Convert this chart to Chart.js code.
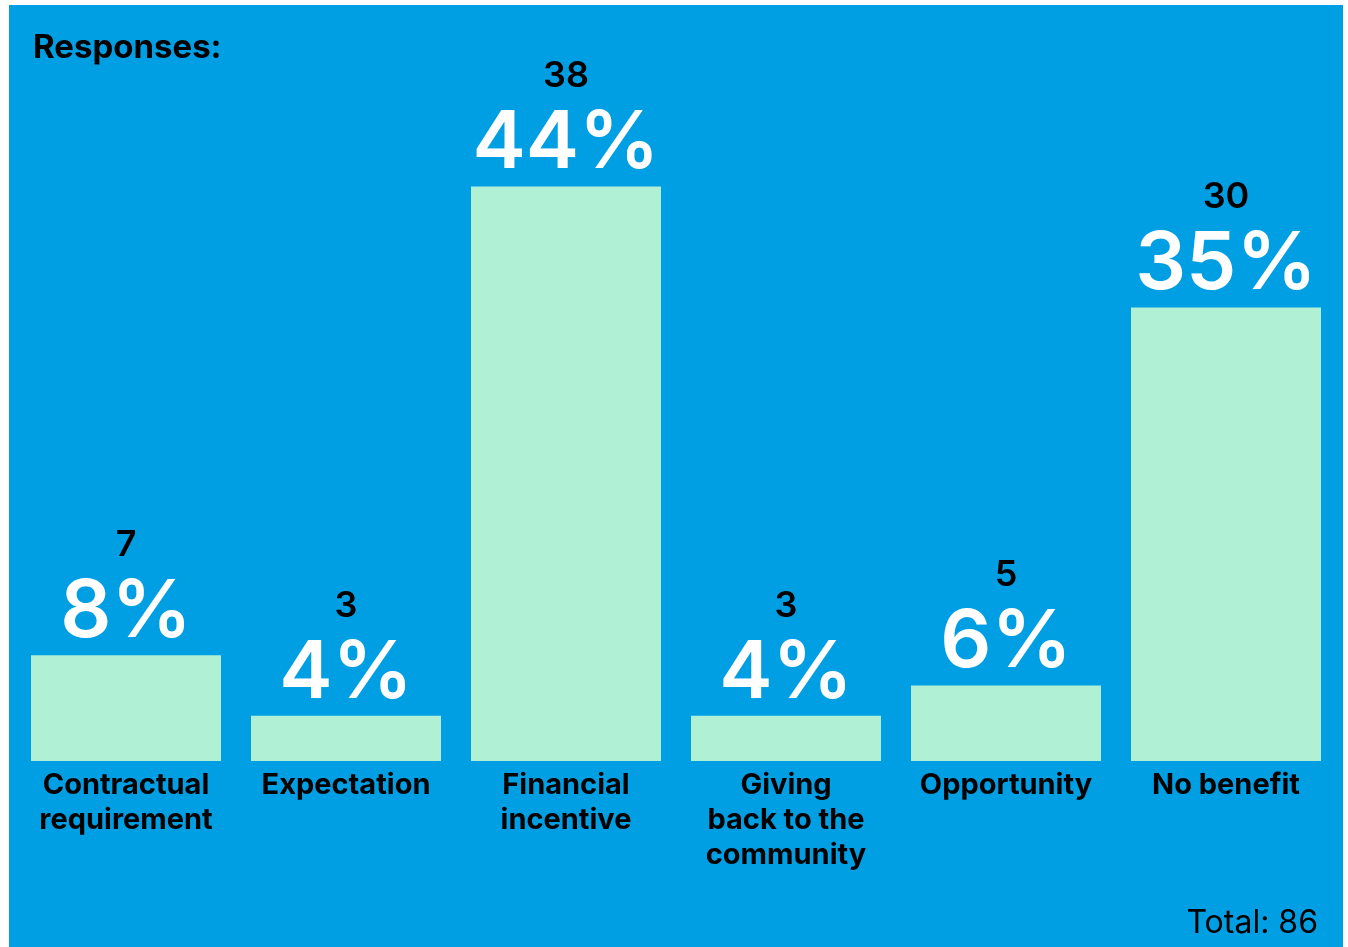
<!DOCTYPE html>
<html>
<head>
<meta charset="utf-8">
<title>Responses</title>
<script src="https://cdn.jsdelivr.net/npm/chart.js@4.4.0/dist/chart.umd.min.js"></script>
<style>
  html, body { margin: 0; padding: 0; background: #fff; }
  #wrap { width: 1348px; height: 947px; position: relative; }
</style>
</head>
<body>
<div id="wrap"><canvas id="responsesChart"></canvas></div>
<script>
// categories, response counts and the shares printed on the bars
const categories = [
    ['Contractual', 'requirement'],
    ['Expectation'],
    ['Financial', 'incentive'],
    ['Giving', 'back to the', 'community'],
    ['Opportunity'],
    ['No benefit'],
];
const counts = [7, 3, 38, 3, 5, 30];
const shares = [8, 4, 44, 4, 6, 35];
const total = counts.reduce((a, b) => a + b, 0);

const FONT = 'Inter, "Noto Sans", sans-serif';
const BLUE = '#009fe3';
const MINT = '#b0f0d4';

// blue panel behind everything
const panel = {
    id: 'panel',
    beforeDraw(chart) {
        const c = chart.ctx;
        c.save();
        c.fillStyle = BLUE;
        c.fillRect(9, 5, 1334, 942);
        c.restore();
    }
};

// count + percentage above each bar, header and total
const barLabels = {
    id: 'barLabels',
    afterDatasetsDraw(chart) {
        const c = chart.ctx;
        const meta = chart.getDatasetMeta(0);
        c.save();
        c.textAlign = 'center';
        c.textBaseline = 'alphabetic';
        meta.data.forEach((bar, i) => {
            c.fillStyle = '#000';
            c.font = '600 36px ' + FONT;
            c.fillText(String(counts[i]), bar.x, bar.y - 99);
            c.fillStyle = '#fff';
            c.font = '600 80px ' + FONT;
            c.fillText(shares[i] + '%', bar.x, bar.y - 18);
        });

        c.textAlign = 'left';
        c.fillStyle = '#000';
        c.font = '700 33px ' + FONT;
        c.fillText('Responses:', 33, 58);

        c.textAlign = 'right';
        c.font = '400 32px ' + FONT;
        c.fillText('Total: ' + total, 1318, 933);
        c.restore();
    }
};

const ctx = document.getElementById('responsesChart');
const responsesChart = new Chart(ctx, {
    type: 'bar',
    data: {
        labels: categories,
        datasets: [{
            data: counts,
            backgroundColor: MINT,
            borderWidth: 0,
            categoryPercentage: 1,
            barPercentage: 0.8636,
        }]
    },
    options: {
        responsive: true,
        maintainAspectRatio: false,
        animation: false,
        layout: {
            padding: { top: 5, left: 16, right: 12, bottom: 0 }
        },
        plugins: {
            legend: { display: false },
            tooltip: { enabled: false },
        },
        scales: {
            x: {
                grid: { display: false, drawTicks: false },
                border: { display: false },
                ticks: {
                    color: '#000',
                    font: { family: FONT, size: 29, weight: '700', lineHeight: 1.2 },
                    padding: 7,
                    maxRotation: 0,
                    autoSkip: false,
                },
                afterFit(scale) { scale.height = 186; }
            },
            y: {
                display: false,
                min: 0,
                max: 50,
            }
        }
    },
    plugins: [panel, barLabels]
});
</script>
</body>
</html>
